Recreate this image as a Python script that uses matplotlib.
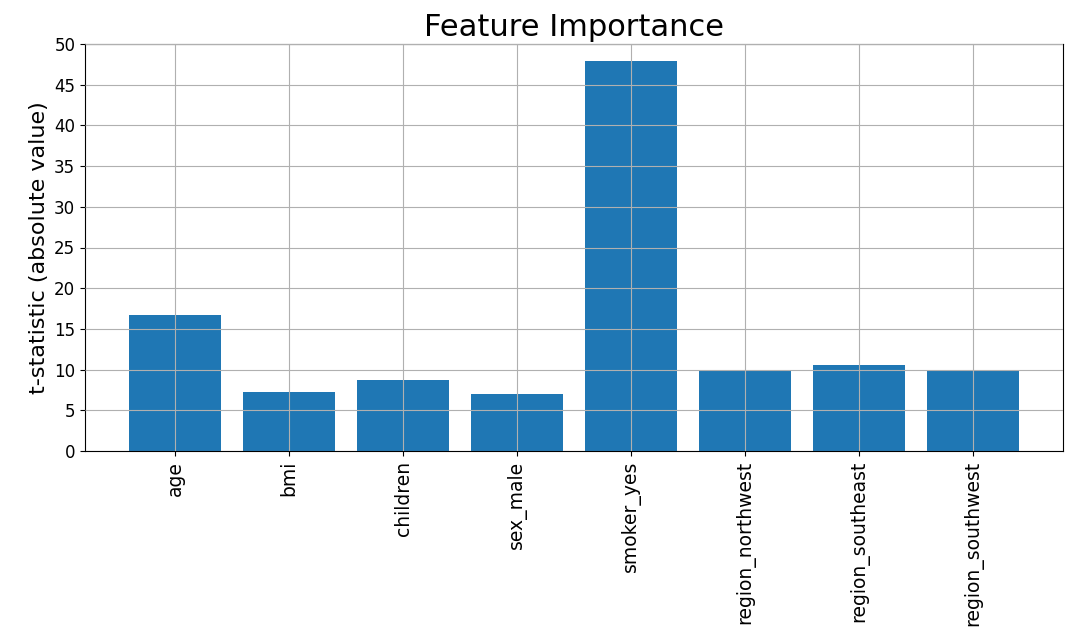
import matplotlib
matplotlib.use("Agg")
import matplotlib.pyplot as plt

features = ["age", "bmi", "children", "sex_male", "smoker_yes",
            "region_northwest", "region_southeast", "region_southwest"]
t_values = [16.75, 7.29, 8.70, 6.96, 47.97, 10.0, 10.58, 9.97]

fig = plt.figure(figsize=(10.79, 6.44), dpi=100)
ax = fig.add_axes([85/1079, 1 - 451/644, (1063-85)/1079, (451-44)/644])
ax.bar(features, t_values, color="#1f77b4", zorder=2)
ax.set_ylim(0, 50)
ax.set_yticks(range(0, 51, 5))
ax.grid(True, color="#b0b0b0", linewidth=0.8, zorder=3)
ax.set_axisbelow(False)
ax.set_title("Feature Importance", fontsize=22)
ax.set_ylabel("t-statistic (absolute value)", fontsize=16)
ax.tick_params(axis="x", labelrotation=90, labelsize=13.5)
ax.tick_params(axis="y", labelsize=12)
fig.savefig("out.png", dpi=100)
